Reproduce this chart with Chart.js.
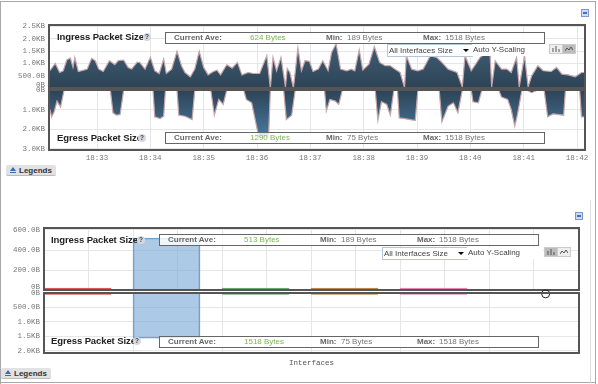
<!DOCTYPE html>
<html>
<head>
<meta charset="utf-8">
<script src="https://cdn.jsdelivr.net/npm/chart.js@4"></script>
<style>
html, body { margin: 0; padding: 0; background: #fff; }
body { width: 598px; height: 384px; overflow: hidden; position: relative; font-family: "Liberation Sans", Arial, sans-serif; }
#page { position: absolute; left: 0; top: 0; width: 598px; height: 384px; filter: blur(0.3px); }
canvas { position: absolute; left: 0; }
.edge { position: absolute; background: #a8a8a8; }
.edge.soft { background: #dcdcdc; }
.title { position: absolute; font-weight: bold; font-size: 9.5px; letter-spacing: -0.1px; color: #222; white-space: nowrap; line-height: 12px; }
.help { position: absolute; width: 8px; height: 8px; border-radius: 4px; background: #d4d8e2; color: #444; font-size: 6.5px; font-weight: bold; line-height: 8px; text-align: center; }
.statbox { position: absolute; width: 378px; height: 10px; border: 1px solid #666; background: rgba(255,255,255,0.82); box-sizing: content-box; }
.statbox span { position: absolute; top: 0; font-size: 8px; line-height: 10px; white-space: nowrap; color: #777; }
.statbox b { position: absolute; top: 0; font-size: 8px; line-height: 10px; white-space: nowrap; color: #666; }
.statbox .val { color: #7db84f; }
.selectbox { position: absolute; width: 83px; height: 11px; border: 1px solid #b3c7da; background: #fff; font-size: 8px; line-height: 11px; color: #444; padding-left: 1px; box-sizing: content-box; white-space: nowrap; }
.selectbox i { position: absolute; right: 3px; top: 4px; border-left: 3px solid transparent; border-right: 3px solid transparent; border-top: 3px solid #000; }
.scalebox { position: absolute; width: 76px; height: 12px; background: #fff; font-size: 8px; line-height: 12px; color: #444; padding-left: 1px; box-sizing: border-box; white-space: nowrap; }
.toggle { position: absolute; width: 12px; height: 8px; border: 1px solid #ccc; background: #eee; box-sizing: content-box; }
.toggle.on { background: #bbb; }
.toggle svg { position: absolute; left: 2px; top: 1px; }
.collapse { position: absolute; width: 6px; height: 6px; border: 1px solid #7f97d2; background: #cfdaf3; }
.collapse:after { content: ""; position: absolute; left: 1px; top: 2px; width: 4px; height: 2px; background: #4a6cbc; }
.legends { position: absolute; width: 50px; height: 11px; border-radius: 2px; background: #e2e2e2; border-bottom: 1px solid #bbb; font-size: 8px; font-weight: bold; line-height: 11px; color: #333; padding-left: 13px; box-sizing: border-box; }
.legends:before { content: ""; position: absolute; left: 4px; top: 2px; border-left: 3px solid transparent; border-right: 3px solid transparent; border-bottom: 4px solid #4468b4; }
.legends:after { content: ""; position: absolute; left: 4px; top: 7px; width: 6px; height: 1px; background: #4468b4; }
</style>
</head>
<body>
<div id="page">
  <canvas id="ingressTime" width="598" height="80" style="top:18px"></canvas>
  <canvas id="egressTime" width="598" height="87" style="top:83px"></canvas>
  <canvas id="ingressBars" width="598" height="79" style="top:221px"></canvas>
  <canvas id="egressBars" width="598" height="84" style="top:286px"></canvas>
</div>
<script>
// Time panel, seconds after 18:32:00
const ingressSeconds = [7,13,18,22,26,30,33,35,39,45,49,54,58,62,67,74,80,84,90,95,99,105,108,114,120,125,130,135,138,144,150,155,159,165,170,175,180,185,191,195,199,206,212,218,223,230,236,243,251,255,258,262,267,272,274,277,281,286,290,294,299,303,309,314,320,324,329,334,341,346,350,355,359,366,372,378,384,390,395,401,406,408,414,421,427,435,442,448,455,465,471,474,481,491,502,504,508,515,521,526,532,535,541,545,549,556,562,571,577,583,590,598,605,609];
const ingressBytes = [700,1000,630,700,1137,1220,836,1247,671,726,767,1206,1110,767,671,1110,945,1110,1137,836,767,1041,1041,767,1247,700,589,1178,589,767,1493,904,630,452,767,1493,836,534,671,726,534,945,808,1041,534,630,589,589,1315,0,1247,700,1247,41,795,630,0,1630,700,1110,1082,671,767,1110,700,1452,1795,767,700,767,700,1548,726,973,1685,1041,904,904,767,630,14,1315,767,700,767,1315,1247,1041,767,630,41,1315,700,1247,1520,41,1110,767,767,630,1247,41,1315,41,493,904,700,671,836,562,534,452,630,630];

const egressSeconds = [7,9,12,15,19,23,75,78,82,86,90,123,125,131,135,137,150,152,159,167,170,188,192,197,202,206,225,228,234,242,253,255,270,273,279,283,316,318,322,328,332,336,373,376,380,386,390,394,398,400,408,418,421,445,448,455,461,466,471,481,483,489,493,512,515,522,526,530,533,538,543,549,556,563,567,573,585,587,603,605,609];
const egressBytes = [998,1376,1084,568,877,0,0,1170,1290,1256,0,0,1376,1462,1342,0,0,1290,1342,1514,0,0,1290,482,740,0,0,482,654,2400,2400,0,0,1514,1290,0,0,1084,482,568,740,0,0,1565,602,740,1290,0,0,1428,1479,1565,0,0,1634,826,654,1170,0,0,602,654,0,0,361,482,998,1858,1256,0,0,138,0,0,1376,1221,1290,0,0,1376,1376];

const minuteTicks = [60,120,180,240,300,360,420,480,540,600];
const minuteLabels = ['18:33','18:34','18:35','18:36','18:37','18:38','18:39','18:40','18:41','18:42'];
const zeroLineSeconds = [6,609];
const zeroLineBytes = [0,0];

// the ingress 0B sits a little above its line so it clears the egress 0B
const ingressTimeTicks = [0,500,1000,1500,2000,2500];
const ingressTimeLabels = [['0B',''],'500.0B','1.0KB','1.5KB','2.0KB','2.5KB'];
const egressTimeTicks = [0,1000,2000,3000];
const egressTimeLabels = ['0B','1.0KB','2.0KB','3.0KB'];

// Interface panel
const interfacePositions = [0,1,2,3,4];
const interfaceIngress = [18,520,18,18,18];
const interfaceEgress = [50,1560,50,50,50];
const markerPosition = [5.26];
const markerBytes = [30];
const halfBandTicks = [0.124,0.624,1.124,1.624,2.124,2.624,3.124,3.624,4.124,4.624,5.124];
const bandTicks = [0.624,1.624,2.624,3.624,4.624];

const ingressBarTicks = [0,200,400,600];
const ingressBarLabels = [['0B',''],'200.0B','400.0B','600.0B'];
const egressBarTicks = [0,500,1000,1500,2000];
const egressBarLabels = ['0B','500.0B','1.0KB','1.5KB','2.0KB'];

const barColors = ['#d85a5a','rgba(127,172,215,0.65)','#6aaa70','#bb8850','#e884b6'];
const barEdges = ['#d85a5a','#6d9ecb','#6aaa70','#bb8850','#e884b6'];

const tickFont = { family: '"Liberation Mono", monospace', size: 7.5, lineHeight: 0.8 };
const tickColor = '#777';
const gridColor = '#e6e6e6';

// Dark frame round each plot
const framePlugin = {
    id: 'frame',
    afterDraw(chart) {
        const { ctx, chartArea: a } = chart;
        ctx.save();
        ctx.strokeStyle = '#555';
        ctx.lineWidth = 2;
        ctx.strokeRect(a.left, a.top, a.right - a.left, a.bottom - a.top);
        ctx.restore();
    }
};

function yAxis(max, reverse, tickValues, tickLabels, axisWidth) {
    return {
        min: 0, max, reverse,
        afterFit: s => { s.width = axisWidth; },
        afterBuildTicks: s => { s.ticks = tickValues.map(v => ({ value: v })); },
        grid: { color: gridColor, drawTicks: false, lineWidth: 1 },
        border: { display: false },
        ticks: {
            font: tickFont, color: tickColor, padding: 4, autoSkip: false,
            callback: v => tickLabels[tickValues.indexOf(v)]
        }
    };
}

function xAxis(min, max, tickValues, options) {
    return Object.assign({
        type: 'linear', min, max, offset: false,
        afterFit: s => { s.height = 0; },
        afterBuildTicks: s => { s.ticks = tickValues.map(v => ({ value: v })); },
        grid: { color: gridColor, drawTicks: false, offset: false },
        border: { display: false },
        ticks: { display: false }
    }, options || {});
}

function toPoints(xs, ys) {
    return xs.map((x, i) => ({ x, y: ys[i] }));
}

function areaGradient(top, bottom) {
    return ctx => {
        const area = ctx.chart.chartArea;
        if (!area) return top;
        const g = ctx.chart.ctx.createLinearGradient(0, area.top, 0, area.bottom);
        g.addColorStop(0, top);
        g.addColorStop(1, bottom);
        return g;
    };
}

function createTimeChart(id, seconds, bytes, fillStyle, y, x, padding) {
    return new Chart(document.getElementById(id), {
        type: 'line',
        data: {
            datasets: [
                { data: toPoints(seconds, bytes), fill: 'origin', backgroundColor: fillStyle, borderColor: '#c7a5a8', borderWidth: 1.2, pointRadius: 0, tension: 0 },
                { data: toPoints(zeroLineSeconds, zeroLineBytes), fill: false, borderColor: '#7d2b38', borderWidth: 2, pointRadius: 0, clip: false }
            ]
        },
        options: {
            responsive: false, animation: false, events: [],
            layout: { padding },
            plugins: { legend: { display: false }, tooltip: { enabled: false } },
            scales: { x, y }
        },
        plugins: [framePlugin]
    });
}

function createBarChart(id, values, y, x, padding, extra) {
    const datasets = [{
        data: toPoints(interfacePositions, values),
        backgroundColor: barColors, borderColor: barEdges, borderWidth: 1, barThickness: 67
    }];
    if (extra) datasets.push(extra);
    return new Chart(document.getElementById(id), {
        type: 'bar',
        data: { datasets },
        options: {
            responsive: false, animation: false, events: [],
            layout: { padding },
            plugins: { legend: { display: false }, tooltip: { enabled: false } },
            scales: { x, y }
        },
        plugins: [framePlugin]
    });
}

createTimeChart('ingressTime', ingressSeconds, ingressBytes, areaGradient('#4a6b82', '#2d4356'),
    yAxis(2560, false, ingressTimeTicks, ingressTimeLabels, 49),
    xAxis(6, 609, minuteTicks),
    { top: 6, bottom: 7, right: 13 });

createTimeChart('egressTime', egressSeconds, egressBytes, areaGradient('#2d4356', '#5088b4'),
    yAxis(3070, true, egressTimeTicks, egressTimeLabels, 49),
    xAxis(6, 609, minuteTicks, {
        afterFit: s => { s.height = 16; },
        ticks: {
            display: true, font: tickFont, color: tickColor, padding: 5, maxRotation: 0, autoSkip: false,
            callback: v => minuteLabels[minuteTicks.indexOf(v)]
        }
    }),
    { top: 7, bottom: 4, right: 13 });

createBarChart('ingressBars', interfaceIngress,
    yAxis(620, false, ingressBarTicks, ingressBarLabels, 44),
    xAxis(-0.3764, 5.635, halfBandTicks),
    { top: 6, bottom: 7, right: 19 });

createBarChart('egressBars', interfaceEgress,
    yAxis(2070, true, egressBarTicks, egressBarLabels, 44),
    xAxis(-0.3764, 5.635, bandTicks, {
        afterFit: s => { s.height = 15; },
        title: { display: true, text: 'Interfaces', font: tickFont, color: '#555', padding: { top: 0, bottom: 2 } }
    }),
    { top: 7, bottom: 2, right: 19 },
    {
        type: 'scatter', data: toPoints(markerPosition, markerBytes), clip: false,
        pointStyle: 'circle', pointRadius: 4, backgroundColor: 'rgba(0,0,0,0)', borderColor: '#222', borderWidth: 1
    });

// Page furniture and the boxes over the plots
const page = document.getElementById('page');

function add(cls, left, top, html) {
    const el = document.createElement('div');
    el.className = cls;
    el.style.left = left + 'px';
    el.style.top = top + 'px';
    if (html) el.innerHTML = html;
    page.appendChild(el);
    return el;
}

function addEdge(left, top, width, height, soft) {
    const el = add('edge' + (soft ? ' soft' : ''), left, top, '');
    el.style.width = width + 'px';
    el.style.height = height + 'px';
}

function addStats(left, top, ave, min, max) {
    add('statbox', left, top,
        `<b style="left:8px">Current Ave:</b><span class="val" style="left:84px">${ave}</span>` +
        `<b style="left:160px">Min:</b><span style="left:181px">${min}</span>` +
        `<b style="left:257px">Max:</b><span style="left:279px">${max}</span>`);
}

function addControls(left, top, barOn) {
    add('selectbox', left, top, 'All Interfaces Size<i></i>');
    add('scalebox', left + 85, top, 'Auto Y-Scaling');
    const barIcon = '<svg width="8" height="6"><path d="M1 6V2M4 6V0M7 6V3" stroke="#555" fill="none"/></svg>';
    const lineIcon = '<svg width="8" height="6"><path d="M0 5L2 2L4 4L6 1L8 4" stroke="#555" fill="none"/></svg>';
    add('toggle' + (barOn ? ' on' : ''), left + 162, top, barIcon);
    add('toggle' + (barOn ? '' : ' on'), left + 175, top, lineIcon);
}

function addTitle(left, top, text, helpLeft) {
    add('title', left, top, text);
    add('help', helpLeft, top + 2, '?');
}

addEdge(0, 1, 596, 1);
addEdge(0, 1, 1, 383);
addEdge(595, 1, 1, 383);
addEdge(0, 382, 596, 1);
addEdge(590, 200, 1, 183, true);

addTitle(57, 31, 'Ingress Packet Size', 143);
addStats(165, 32, '624 Bytes', '189 Bytes', '1518 Bytes');
addControls(387, 44, false);
addTitle(57, 132, 'Egress Packet Size', 138);
addStats(165, 132, '1290 Bytes', '75 Bytes', '1518 Bytes');
add('collapse', 581, 9);
add('legends', 6, 165, 'Legends');

addTitle(51, 234, 'Ingress Packet Size', 137);
addStats(159, 234, '513 Bytes', '189 Bytes', '1518 Bytes');
addControls(382, 247, true);
addTitle(51, 335, 'Egress Packet Size', 133);
addStats(159, 336, '1518 Bytes', '75 Bytes', '1518 Bytes');
add('collapse', 575, 212);
add('legends', 1, 368, 'Legends');
</script>
</body>
</html>
